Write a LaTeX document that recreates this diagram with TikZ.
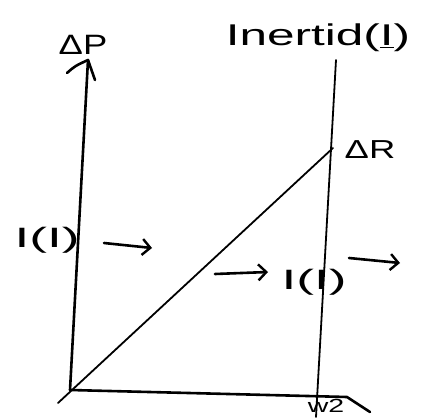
\documentclass[tikz,border=0pt]{standalone}
\usepackage{fontspec}
\setmainfont{Liberation Sans}
\usetikzlibrary{arrows.meta}
\begin{document}
\begin{tikzpicture}[x=1pt,y=-1pt,
  ink/.style={line width=2.6pt,line cap=round,line join=round},
  thin ink/.style={line width=1.8pt,line cap=round},
  lbl/.style={inner sep=0pt},
  hook/.style={ink,-{Straight Barb[length=8pt,width=16pt,line width=2.4pt]}}]
\useasboundingbox (0,0) rectangle (429,420);
% axes
\coordinate (O) at (70,390);
\coordinate (Ptop) at (88,60);
\coordinate (Wend) at (347,397);
\coordinate (Wtail) at (370,412);
\coordinate (Rtop) at (336,60);
\coordinate (Rbot) at (316,417);
\coordinate (Dstart) at (58,403);
\coordinate (Dend) at (333,148);
\draw[ink] (O) -- (Ptop);
\draw[ink] (67,73) .. controls (75,66) .. (Ptop) -- (95,80);
\draw[ink] (O) -- (Wend) -- (Wtail);
\draw[thin ink] (Rtop) -- (Rbot);
\draw[thin ink] (Dstart) -- (Dend);
% labels
\node[lbl,font=\fontsize{28}{30}\selectfont,xscale=1.3] (dp) at (83,45) {ΔP};
\node[lbl,font=\fontsize{30}{32}\selectfont,xscale=1.65] (inert) at (318,38) {Inertid(\underline{I})};
\node[lbl,font=\fontsize{26}{28}\selectfont,xscale=1.4] (dr) at (370,150) {ΔR};
\node[lbl,font=\fontsize{28}{30}\selectfont,xscale=1.9] (ileft) at (47,240) {I(I)};
\node[lbl,font=\fontsize{28}{30}\selectfont,xscale=1.9] (imid) at (314,282) {I(I)};
\node[lbl,font=\fontsize{19}{21}\selectfont,xscale=1.5] (w2) at (326,406) {w2};
% arrows
\coordinate (a1s) at (104,243);
\coordinate (a1e) at (152,248);
\coordinate (a2s) at (215,274);
\coordinate (a2e) at (268,272);
\coordinate (a3s) at (349,258);
\coordinate (a3e) at (400,263);
\draw[hook] (a1s) -- (a1e);
\draw[hook] (a2s) -- (a2e);
\draw[hook] (a3s) -- (a3e);
\end{tikzpicture}
\end{document}
